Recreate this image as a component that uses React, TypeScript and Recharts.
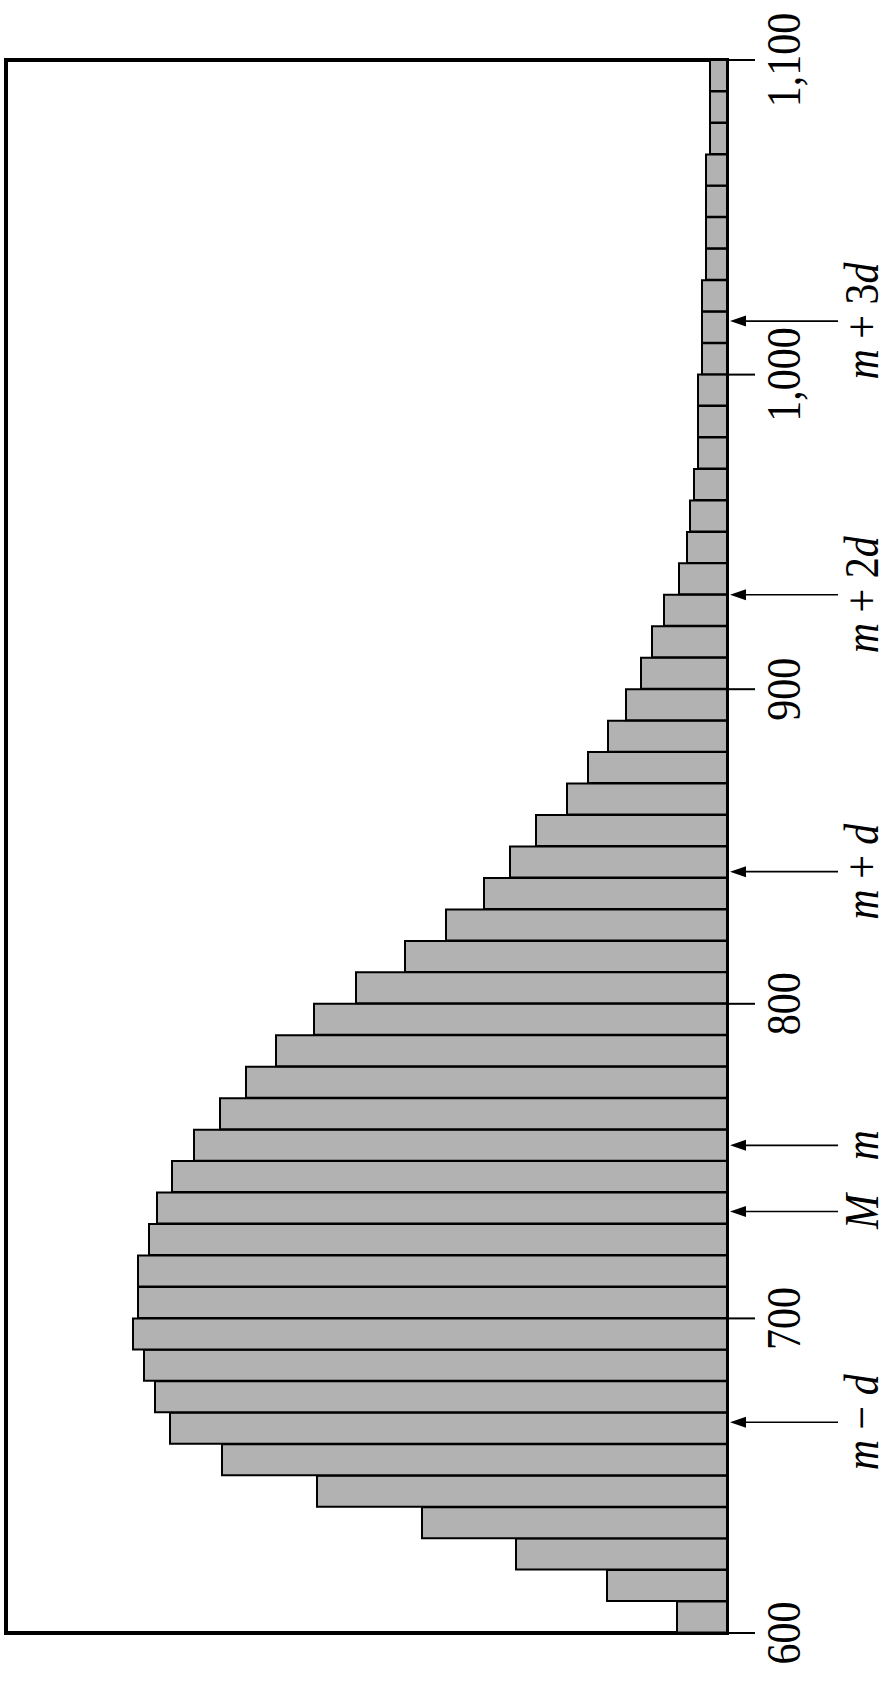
import { BarChart, Bar, XAxis, YAxis, ReferenceLine, ReferenceArea } from 'recharts'

// histogram bins, 10 units wide, 600 -> 1100
const binStarts = [
  600, 610, 620, 630, 640, 650, 660, 670, 680, 690,
  700, 710, 720, 730, 740, 750, 760, 770, 780, 790,
  800, 810, 820, 830, 840, 850, 860, 870, 880, 890,
  900, 910, 920, 930, 940, 950, 960, 970, 980, 990,
  1000, 1010, 1020, 1030, 1040, 1050, 1060, 1070, 1080, 1090,
]
const frequencies = [
  50, 120, 211, 305, 410, 505, 557, 572, 583, 594,
  589, 589, 578, 570, 555, 533, 507, 481, 451, 413,
  371, 322, 281, 243, 217, 191, 160, 139, 119, 101,
  86, 75, 63, 48, 40, 37, 33, 29, 29, 29,
  25, 25, 25, 21, 21, 21, 21, 17, 17, 17,
]
const BIN_WIDTH = 10
const axisTicks = [600, 700, 800, 900, 1000, 1100]
const markerLabels = ['m − d', 'M', 'm', 'm + d', 'm + 2d', 'm + 3d']
const markerValues = [667, 734, 755, 842, 930, 1017]
const FREQ_MAX = 721

const chartData = binStarts.map((start, i) => ({
  mid: start + BIN_WIDTH / 2,
  freq: frequencies[i],
}))

const FONT = 'Liberation Serif'

function AxisTick(props: any) {
  const { x, y, payload } = props
  const v = payload.value as number
  const text = v >= 1000 ? v.toLocaleString('en-US') : String(v)
  return (
    <g transform={`translate(${x},${y}) rotate(-90) scale(1,1.17)`}>
      <text x={0} y={0} textAnchor="middle" style={{ fontFamily: FONT, fontSize: 42 }} fill="#000">
        {text}
      </text>
    </g>
  )
}

function MarkerText({ label }: { label: string }) {
  return (
    <text x={0} y={0} textAnchor="middle" style={{ fontFamily: FONT, fontSize: 42 }} fill="#000">
      {label.split('').map((ch, i) => (
        <tspan key={i} fontStyle={/[mMd]/.test(ch) ? 'italic' : 'normal'}>
          {ch}
        </tspan>
      ))}
    </text>
  )
}

function MarkerArrow(props: any) {
  const { x1, x2, y1, label } = props
  const edge = Math.max(x1, x2)
  const tip = edge + 3
  const y = y1
  return (
    <g>
      <line x1={tip + 12} y1={y} x2={edge + 111} y2={y} stroke="#000" strokeWidth={1.6} />
      <polygon points={`${tip},${y} ${tip + 16},${y - 5.5} ${tip + 16},${y + 5.5}`} fill="#000" />
      <g transform={`translate(${edge + 151},${y}) rotate(-90) scale(1,1.17)`}>
        <MarkerText label={label} />
      </g>
    </g>
  )
}

export default function App() {
  return (
    <div style={{ position: 'absolute', left: 0, top: 0, background: '#fff' }}>
      <BarChart
        width={885}
        height={1682}
        data={chartData}
        layout="vertical"
        margin={{ top: 60, right: 0, bottom: 49, left: 6 }}
        barCategoryGap={0}
      >
        <XAxis type="number" dataKey="freq" domain={[0, FREQ_MAX]} reversed hide />
        <YAxis
          type="number"
          dataKey="mid"
          domain={[600, 1100]}
          ticks={axisTicks}
          orientation="right"
          reversed
          width={158}
          axisLine={false}
          tickLine={{ stroke: '#000', strokeWidth: 2 }}
          tickSize={28}
          tickMargin={45}
          tick={<AxisTick />}
          interval={0}
          allowDataOverflow
        />
        <Bar dataKey="freq" fill="#b2b2b2" stroke="#000" strokeWidth={2} isAnimationActive={false} />
        <ReferenceArea
          x1={0}
          x2={FREQ_MAX}
          y1={600}
          y2={1100}
          fill="none"
          stroke="#000"
          strokeWidth={4}
          fillOpacity={0}
          ifOverflow="visible"
        />
        {markerValues.map((v, i) => (
          <ReferenceLine
            key={markerLabels[i]}
            y={v}
            ifOverflow="visible"
            shape={(p: any) => <MarkerArrow {...p} label={markerLabels[i]} />}
          />
        ))}
      </BarChart>
    </div>
  )
}
